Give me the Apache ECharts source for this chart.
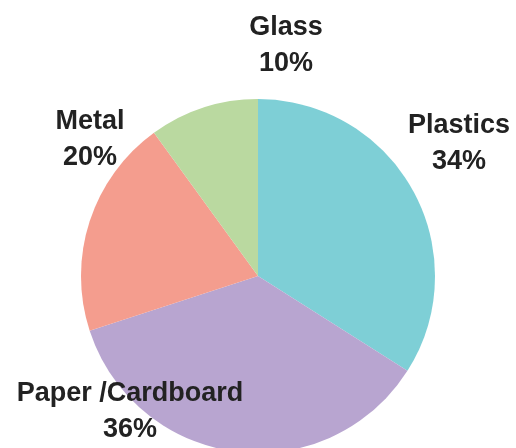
<!DOCTYPE html>
<html>
<head>
<meta charset="utf-8">
<script src="https://cdn.jsdelivr.net/npm/echarts@6/dist/echarts.min.js"></script>
<style>
html,body{margin:0;padding:0;background:#fff;}
#chart{width:516px;height:448px;}
</style>
</head>
<body>
<div id="chart"></div>
<script>
const categories = ['Plastics', 'Paper /Cardboard', 'Metal', 'Glass'];
const values = [34, 36, 20, 10];

const colors = ['#7ecfd6', '#b8a5d0', '#f49d8e', '#bad9a0'];
// label centre positions (layout only)
const labelPos = [[459, 144], [130, 412], [90, 140], [286, 46]];

const chart = echarts.init(document.getElementById('chart'), null, {renderer: 'canvas'});
chart.setOption({
  animation: false,
  backgroundColor: '#ffffff',
  series: [{
    type: 'pie',
    center: [258, 276],
    radius: [0, 177],
    startAngle: 90,
    clockwise: true,
    data: categories.map((c, i) => ({name: c, value: values[i], itemStyle: {color: colors[i]}})),
    itemStyle: {borderWidth: 0},
    label: {
      show: true,
      position: 'outside',
      overflow: 'none',
      width: 300,
      formatter: p => p.name + '\n' + p.value + '%',
      fontFamily: 'Liberation Sans, Arial, sans-serif',
      fontWeight: 'bold',
      fontSize: 27,
      lineHeight: 36,
      color: '#222222',
      align: 'center',
      verticalAlign: 'middle'
    },
    labelLine: {show: false},
    labelLayout: function (params) {
      const pos = labelPos[params.dataIndex];
      return {x: pos[0], y: pos[1], align: 'center', verticalAlign: 'middle', hideOverlap: false};
    },
    emphasis: {disabled: true}
  }]
});
</script>
</body>
</html>
